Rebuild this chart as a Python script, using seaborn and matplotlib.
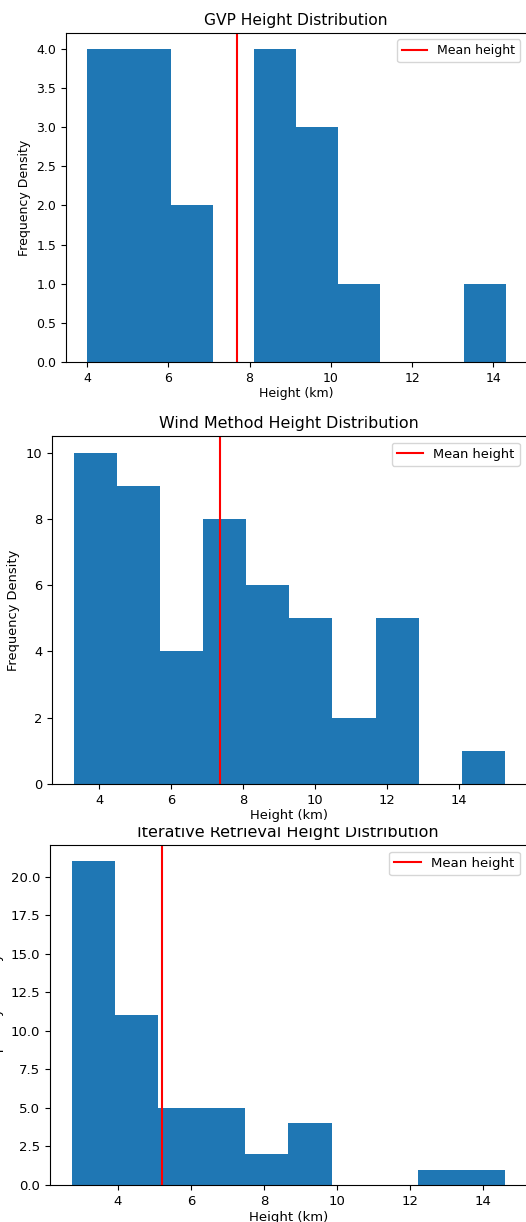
import numpy as np
import matplotlib
matplotlib.use("Agg")
import matplotlib.pyplot as plt
import seaborn as sns
from matplotlib.patches import Rectangle

# ---- data (bin edges, counts per bin, mean) ----
gvp_edges = [4.0, 5.03, 6.06, 7.09, 8.12, 9.15, 10.18, 11.21, 12.24, 13.27, 14.30]
gvp_counts = [4, 4, 2, 0, 4, 3, 1, 0, 0, 1]
gvp_mean = 7.70

wind_edges = [3.29, 4.49, 5.69, 6.89, 8.09, 9.29, 10.49, 11.69, 12.89, 14.09, 15.29]
wind_counts = [10, 9, 4, 8, 6, 5, 2, 5, 0, 1]
wind_mean = 7.37

iter_edges = [2.73, 3.92, 5.11, 6.29, 7.48, 8.67, 9.86, 11.04, 12.23, 13.42, 14.61]
iter_counts = [21, 11, 5, 5, 2, 4, 0, 0, 1, 1]
iter_mean = 5.21

titles = ["GVP Height Distribution",
          "Wind Method Height Distribution",
          "Iterative Retrieval Height Distribution"]

W, H = 526, 1222
fig = plt.figure(figsize=(W / 100, H / 100), dpi=100)

def px_axes(left, top, bottom, right=526.5):
    return fig.add_axes([left / W, 1 - bottom / H, (right - left) / W, (bottom - top) / H])

# axes boxes in pixels (left, top, bottom) and font sizes per panel
boxes = [(66, 33, 362), (52, 436, 784), (50, 845, 1185)]
fonts = [(9.0, 11.2), (9.4, 11.4), (9.5, 11.5)]
panels = [(gvp_edges, gvp_counts, gvp_mean),
          (wind_edges, wind_counts, wind_mean),
          (iter_edges, iter_counts, iter_mean)]

axes = []
for i, ((edges, counts, mean), box, (fs, tfs)) in enumerate(zip(panels, boxes, fonts)):
    ax = px_axes(*box)
    centers = (np.array(edges[:-1]) + np.array(edges[1:])) / 2
    sns.histplot(x=centers, weights=counts, bins=edges, color="#1f77b4",
                 alpha=1, linewidth=0, ax=ax)
    ax.axvline(mean, color="red", lw=1.5, label="Mean height")
    ax.set_title(titles[i], fontsize=tfs)
    ax.set_xlabel("Height (km)", fontsize=fs, labelpad=2)
    ax.set_ylabel("Frequency Density", fontsize=fs)
    ax.tick_params(labelsize=fs)
    ax.legend(loc="upper right", fontsize=fs)
    axes.append(ax)

# third panel: y label sits partly off the left edge, title top is clipped
axes[2].yaxis.set_label_coords((4 - 50) / 475, 0.5)
axes[0].set_zorder(3)
axes[1].set_zorder(3)
axes[2].set_zorder(1)
fig.patches.append(Rectangle((0, 1 - 826 / H), 1, (826 - 786) / H,
                             transform=fig.transFigure, color="white", zorder=2))

fig.savefig("out.png", dpi=100)
